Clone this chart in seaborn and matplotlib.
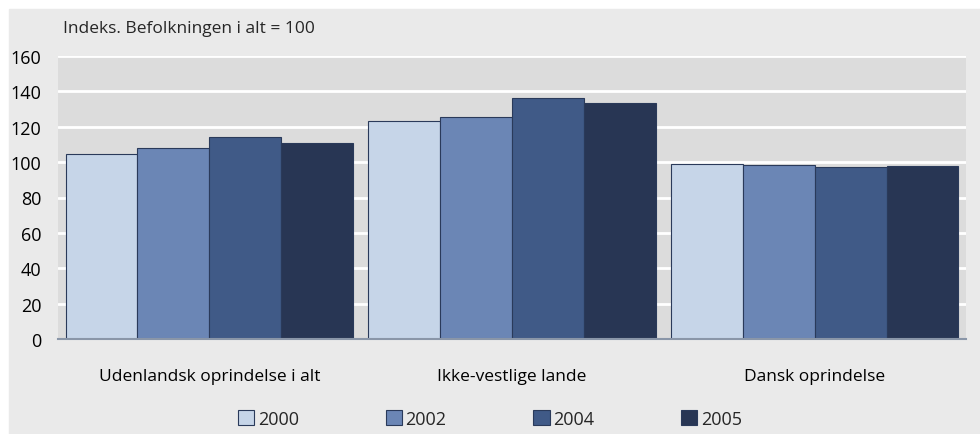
import matplotlib
matplotlib.use("Agg")
import pandas as pd
import matplotlib.pyplot as plt
import matplotlib.patches as mpatches
import seaborn as sns

# Data
categories = ["Udenlandsk oprindelse i alt", "Ikke-vestlige lande", "Dansk oprindelse"]
years = ["2000", "2002", "2004", "2005"]
values_2000 = [104.8, 123.0, 99.1]
values_2002 = [108.2, 125.4, 98.5]
values_2004 = [114.4, 136.0, 97.4]
values_2005 = [111.0, 133.3, 98.0]
y_ticks = [0, 20, 40, 60, 80, 100, 120, 140, 160]

colors = ["#C6D5E8", "#6B86B5", "#405A87", "#283654"]

sns.set_theme(style="white")
plt.rcParams['font.family'] = ['Open Sans', 'DejaVu Sans']

rows = []
for year, vals in zip(years, [values_2000, values_2002, values_2004, values_2005]):
    for cat, v in zip(categories, vals):
        rows.append({"category": cat, "year": year, "value": v})
df = pd.DataFrame(rows)

fig = plt.figure(figsize=(9.8, 4.35), dpi=100, facecolor="white")
fig.patches.append(mpatches.Rectangle((9 / 980, 0), 1, 1 - 10 / 435,
                                      transform=fig.transFigure, color="#EAEAEA", zorder=-10))
ax = fig.add_axes([58 / 980, 95 / 435, 908 / 980, 283 / 435])
ax.set_facecolor("#DCDCDC")

sns.barplot(data=df, x="category", y="value", hue="year", palette=colors,
            saturation=1, width=0.95, gap=0, edgecolor="#2A3A5A", linewidth=0.8,
            ax=ax, legend=False, zorder=3)

ax.set_ylim(0, 160)
ax.set_yticks(y_ticks)
ax.set_xlim(-0.5, 2.5)
ax.yaxis.grid(True, color="white", linewidth=2)
ax.set_axisbelow(True)
for side in ["left", "right", "top"]:
    ax.spines[side].set_visible(False)
ax.spines["bottom"].set_color("#8A96A8")
ax.spines["bottom"].set_linewidth(1.5)
ax.spines["bottom"].set_zorder(5)
ax.tick_params(axis="y", length=0, pad=12, labelsize=13, labelcolor="black")
ax.tick_params(axis="x", length=0, pad=21, labelsize=12.5, labelcolor="black")
ax.set_xlabel("")
ax.set_ylabel("")

fig.text(63 / 980, 1 - 29 / 435, "Indeks. Befolkningen i alt = 100", fontsize=12.5,
         va="center", ha="left")

handles = [mpatches.Patch(facecolor=c, edgecolor="#2A3A5A", linewidth=0.8, label=y)
           for c, y in zip(colors, years)]
fig.legend(handles=handles, loc="center", bbox_to_anchor=(0.5, 15 / 435), ncol=4,
           frameon=False, fontsize=13, handlelength=0.9, handleheight=0.9,
           handletextpad=0.2, columnspacing=4.8)

fig.savefig("out.png", dpi=100, facecolor=fig.get_facecolor())
